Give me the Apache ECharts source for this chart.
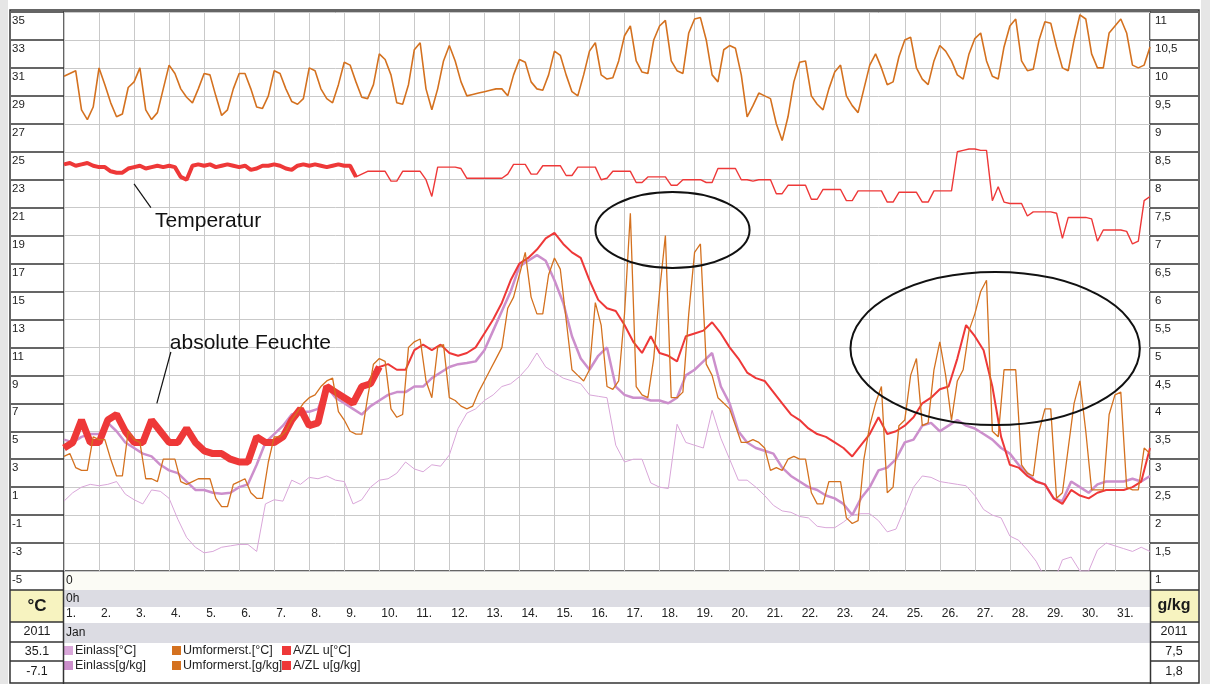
<!DOCTYPE html>
<html><head><meta charset="utf-8">
<script src="https://cdn.jsdelivr.net/npm/echarts/dist/echarts.min.js"></script>
<style>html,body{margin:0;padding:0;background:#fff}#c{width:1210px;height:684px}</style>
</head><body><div id="c"></div><script>
// ---------------- DATA (x = elapsed days since 1 Jan 0h) ----------------
const dayLabels = Array.from({length: 31}, (_, i) => (i + 1) + '.');
const NAMES = ['Einlass[°C]', 'Umformerst.[°C]', 'A/ZL u[°C]', 'Einlass[g/kg]', 'Umformerst.[g/kg]', 'A/ZL u[g/kg]'];

// Umformerst. [°C]  (every 4 h)
const orangeT = [
30.4,30.6,30.8,28.0,27.3,28.2, 31.0,29.8,28.5,27.5,27.7,29.6, 30.0,31.0,28.0,27.3,27.8,29.5,
31.2,30.6,29.5,28.9,28.5,29.5, 30.6,30.5,29.0,27.6,28.0,29.5, 30.6,30.6,29.5,28.2,28.1,29.0,
30.8,30.6,29.5,28.6,28.4,28.8, 31.0,30.8,29.5,28.8,28.5,29.8, 31.4,31.2,30.0,28.9,28.8,29.8,
32.0,31.6,30.5,28.5,28.4,29.8, 32.3,32.8,29.5,28.0,29.5,31.5, 32.6,31.5,30.0,29.0,29.1,29.2,
29.3,29.4,29.5,29.5,29.0,30.5, 31.6,31.4,30.0,29.5,29.4,30.5, 32.2,31.9,30.5,29.3,29.0,30.5,
32.2,32.8,30.5,30.2,30.3,31.5, 33.3,34.0,31.5,30.7,30.6,33.0, 34.0,34.4,31.5,30.8,30.6,33.5,
34.5,34.6,33.0,30.5,30.0,32.3, 32.6,32.4,30.5,27.5,28.3,29.2, 29.0,28.8,27.0,25.8,27.5,30.0,
31.4,31.5,29.0,28.4,28.0,29.5, 30.7,31.2,29.0,28.3,27.8,29.5, 31.2,32.0,31.0,29.8,30.0,31.8,
33.0,33.2,31.0,30.2,29.8,31.5, 32.6,32.2,31.5,30.5,30.2,32.0, 33.1,33.5,31.5,30.4,30.2,32.5,
34.0,34.5,31.5,30.8,30.9,33.0, 34.3,34.2,32.5,31.0,30.8,33.0, 34.8,34.5,32.0,31.0,31.0,33.5,
34.0,34.5,33.5,31.2,31.0,31.2, 32.5];

// A/ZL u [°C]  (every 4 h)
const redT = [
24.1,24.2,24.0,24.1,24.2,24.0, 23.9,23.9,23.6,23.5,23.5,23.8, 23.9,24.0,23.8,23.9,24.0,23.9,
24.0,23.9,23.2,23.0,24.0,24.1, 24.0,24.1,23.9,24.0,24.1,24.0, 23.9,24.0,23.7,23.8,24.0,24.0,
24.1,24.0,23.8,23.7,24.0,24.1, 24.0,24.1,24.0,23.9,24.0,24.1, 24.0,24.0,23.2,23.4,23.6,23.6,
23.6,23.6,22.9,22.9,23.6,23.6, 23.6,23.6,23.0,21.8,23.9,23.9, 23.9,23.9,23.8,23.1,23.1,23.1,
23.1,23.1,23.1,23.1,23.4,24.1, 24.1,24.1,23.4,23.4,24.0,24.0, 24.0,24.0,23.3,23.3,23.9,23.9,
23.9,23.9,23.0,23.1,23.6,23.6, 23.6,23.6,22.8,22.8,23.2,23.2, 23.2,23.2,22.6,22.6,23.0,23.0,
23.0,23.0,22.8,22.8,23.8,23.8, 23.8,23.8,23.0,23.0,22.9,23.0, 23.0,23.0,22.0,22.0,22.6,22.6,
22.6,22.6,21.6,21.6,22.3,22.3, 22.3,22.3,21.5,21.5,22.2,22.2, 22.2,22.2,22.2,21.4,21.4,22.1,
22.1,22.1,22.1,21.4,21.4,22.2, 22.2,22.2,22.2,25.0,25.1,25.2, 25.2,25.1,25.1,21.5,22.5,21.4,
21.3,21.3,21.3,20.4,20.7,20.7, 20.7,20.7,20.6,18.8,20.3,20.3, 20.3,20.3,20.2,18.6,19.4,19.4,
19.4,19.4,19.3,18.4,18.6,21.5, 21.8];

// Umformerst. [g/kg]  (every 4 h)
const orangeH = [
3.05,3.1,2.85,2.8,2.8,3.4, 3.35,3.35,3.0,2.7,2.7,3.5, 3.35,3.3,2.65,2.65,2.6,3.0,
3.0,3.0,2.6,2.55,2.6,2.65, 2.65,2.65,2.3,2.15,2.15,2.55, 2.6,2.65,2.4,2.3,2.3,2.95,
3.4,3.4,3.5,3.7,3.85,4.0, 4.1,4.15,4.3,4.4,4.45,3.85, 3.7,3.5,3.45,3.45,4.1,4.7,
4.8,4.75,3.9,3.75,3.8,5.0, 5.1,5.15,4.4,4.1,5.0,5.05, 4.1,4.05,3.95,3.9,3.95,4.2,
4.4,4.6,4.8,5.0,5.7,5.9, 6.3,6.7,5.9,5.6,5.6,6.3, 6.6,6.4,5.5,4.6,4.5,4.4,
4.6,5.8,5.4,4.3,4.25,4.4, 5.6,7.4,4.3,4.15,4.1,4.8, 6.0,7.0,4.1,4.1,4.2,5.6,
6.7,6.85,4.7,4.5,4.1,4.0, 3.9,3.6,3.3,3.3,3.35,3.3, 3.2,2.8,2.85,2.8,3.0,3.05,
3.0,3.0,2.4,2.2,2.2,2.6, 2.6,2.6,1.95,1.85,1.9,3.0, 3.6,4.0,4.3,2.4,2.5,3.6,
3.7,4.5,4.8,3.6,3.65,4.6, 5.1,4.5,3.7,4.4,4.6,5.3, 5.6,6.0,6.2,3.5,3.4,4.6,
4.6,4.6,2.9,2.75,2.7,3.5, 3.9,3.9,2.3,2.4,3.2,4.0, 4.4,3.5,2.45,2.45,2.45,3.8,
4.15,4.2,2.5,2.45,2.45,3.2, 3.1];

// A/ZL u [g/kg]  (every 6 h)
const redH = [
3.2,3.3,3.7,3.3, 3.3,3.7,3.8,3.5, 3.3,3.3,3.7,3.5, 3.3,3.3,3.55,3.3, 3.15,3.1,3.1,3.0,
2.95,2.95,3.4,3.3, 3.3,3.4,3.7,3.9, 3.6,3.65,4.3,4.2, 4.1,4.0,4.3,4.35, 4.65,4.7,4.6,4.6,
4.95,5.05,4.95,5.05, 4.9,4.85,4.9,5.0, 5.25,5.5,5.8,6.2, 6.5,6.6,6.75,6.95, 7.05,6.85,6.7,6.6,
6.2,5.85,5.7,5.65, 5.4,5.1,4.9,5.2, 4.9,4.85,4.75,5.2, 5.25,5.3,5.45,5.25, 5.0,4.8,4.55,4.45,
4.4,4.2,4.0,3.8, 3.7,3.55,3.45,3.4, 3.3,3.2,3.05,3.25, 3.45,3.75,3.45,3.5, 3.6,3.75,4.0,4.1,
4.25,4.3,4.8,5.4, 5.2,4.95,4.3,3.4, 2.9,2.85,2.7,2.6, 2.55,2.3,2.2,2.45, 2.35,2.3,2.4,2.45,
2.45,2.45,2.5,2.6, 3.2];

// Einlass [g/kg]  (every 6 h)
const pinkH = [
3.35,3.3,3.4,3.45, 3.45,3.65,3.5,3.3, 3.2,3.1,3.05,2.9, 2.8,2.75,2.6,2.45, 2.45,2.4,2.38,2.4,
2.5,2.55,2.9,3.3, 3.45,3.6,3.8,3.85, 3.85,3.9,4.3,4.1, 4.0,3.9,3.8,3.95, 4.05,4.15,4.2,4.2,
4.3,4.3,4.45,4.55, 4.65,4.7,4.72,4.75, 4.95,5.3,5.65,6.0, 6.45,6.55,6.65,6.55, 6.2,5.8,5.2,4.8,
4.6,4.85,5.0,4.3, 4.15,4.1,4.1,4.05, 4.05,4.0,4.1,4.5, 4.6,4.75,4.9,4.3, 4.0,3.5,3.3,3.2,
3.15,3.1,2.85,2.7, 2.6,2.5,2.45,2.35, 2.3,2.2,2.0,2.3, 2.5,2.8,2.85,3.0, 3.3,3.35,3.6,3.65,
3.5,3.6,3.7,3.6, 3.55,3.45,3.35,3.2, 3.1,2.9,2.75,2.6, 2.55,2.3,2.25,2.6, 2.5,2.4,2.55,2.6,
2.6,2.6,2.65,2.6, 2.7];

// Einlass [°C]  (every 6 h)
const pinkT = [
0.0,0.6,1.0,1.2, 1.1,1.2,1.4,0.5, 0.1,-0.2,0.8,0.7, 0.2,-1.3,-2.6,-3.3, -3.7,-3.6,-3.3,-3.2,
-3.1,-3.1,-3.6,-0.2, 0.1,0.0,1.5,1.2, 1.7,1.6,1.8,1.5, 1.4,-0.2,0.1,1.0, 1.5,1.6,2.0,2.8,
2.3,2.1,2.6,2.5, 3.3,5.2,6.3,6.6, 7.2,7.6,8.2,8.4, 8.9,9.6,10.6,9.6, 9.2,8.8,8.6,8.4,
7.6,7.5,7.4,4.0, 2.8,3.0,3.0,1.3, 1.0,0.9,5.5,4.2, 4.0,3.8,6.5,4.5, 3.0,1.5,1.5,1.0,
0.4,-0.3,-0.7,-0.8, -1.1,-1.2,-1.8,-1.9, -1.9,-1.5,-1.0,-0.9, -0.9,-1.4,-2.2,-2.0, -0.5,1.0,1.8,1.7,
1.4,1.3,1.2,1.1, 0.4,-0.6,-1.0,-1.2, -2.5,-2.8,-3.5,-4.3, -5.5,-5.8,-4.2,-4.0, -5.0,-5.0,-3.5,-3.0,
-3.2,-3.4,-3.6,-3.3, -3.6];

// Statistics shown in the side columns
const leftInfo = {unit: '°C', year: '2011', max: '35.1', min: '-7.1'};
const rightInfo = {unit: 'g/kg', year: '2011', max: '7,5', min: '1,8'};
const bandTexts = {zero: '0', hour: '0h', month: 'Jan'};

// ---------------- CHART ----------------
const FONT = '"Liberation Sans", Arial, sans-serif';
const COL = {einT: '#d9a6d9', einH: '#cc8fcc', um: '#d4711f', az: '#ee3838'};
const G_LEFT = 64, G_RIGHT = 1150, G_TOP = 12, G_BOTTOM = 571;

function pairs(arr, perDay) { return arr.map((v, i) => [i / perDay, v]); }
function lineS(name, data, yIdx, color, width, z) {
  return {name, type: 'line', data, yAxisIndex: yIdx, showSymbol: false, symbol: 'none',
    lineStyle: {color, width}, itemStyle: {color}, z, animation: false, silent: true, clip: true};
}

const chart = echarts.init(document.getElementById('c'), null, {renderer: 'canvas'});

const G = [];
const line = (x1, y1, x2, y2, w, c) => G.push({type: 'line', shape: {x1, y1, x2, y2}, style: {stroke: c || '#333', lineWidth: w || 1.5}, silent: true, z: 10});
const rect = (x, y, w, h, fill, z) => G.push({type: 'rect', shape: {x, y, width: w, height: h}, style: {fill}, silent: true, z: z || 0});
const text = (x, y, t, size, opts) => G.push(Object.assign({type: 'text', x, y, style: Object.assign({text: t, fontFamily: FONT, fontSize: size, fill: '#1a1a1a', align: 'left', verticalAlign: 'middle'}, opts || {})}, {silent: true, z: 11}));

// side strips
rect(0, 0, 8, 684, '#e6e6e6');
rect(1201, 0, 9, 684, '#e6e6e6');
// bottom bands
rect(G_LEFT, 571, G_RIGHT - G_LEFT, 19, '#fbfbf5');
rect(G_LEFT, 590, G_RIGHT - G_LEFT, 17, '#dcdce3');
rect(G_LEFT, 623, G_RIGHT - G_LEFT, 20, '#dcdce3');
text(66, 581, bandTexts.zero, 12);
text(66, 599, bandTexts.hour, 12);
text(66, 633, bandTexts.month, 12);
// unit boxes
rect(11, 590, 52, 32, '#f7f3c0', 1);
rect(1151, 590, 47, 32, '#f7f3c0', 1);
[590, 622, 642, 661].forEach(y => { line(10, y, G_LEFT, y); line(G_RIGHT, y, 1199, y); });
line(G_LEFT - 0.5, 571, G_LEFT - 0.5, 684);
line(G_RIGHT + 0.5, 571, G_RIGHT + 0.5, 684);
G.push({type: 'rect', shape: {x: 10, y: 10, width: 1189, height: 673}, style: {fill: 'none', stroke: '#333', lineWidth: 1.5}, silent: true, z: 10});
text(37, 606, leftInfo.unit, 17, {fontWeight: 'bold', align: 'center'});
text(37, 632, leftInfo.year, 12.5, {align: 'center'});
text(37, 652, leftInfo.max, 12.5, {align: 'center'});
text(37, 672, leftInfo.min, 12.5, {align: 'center'});
text(1174, 606, rightInfo.unit, 16, {fontWeight: 'bold', align: 'center'});
text(1174, 632, rightInfo.year, 12.5, {align: 'center'});
text(1174, 652, rightInfo.max, 12.5, {align: 'center'});
text(1174, 672, rightInfo.min, 12.5, {align: 'center'});

// legend: three columns of two entries (°C row on top, g/kg row below)
const legendBase = {top: 644, orient: 'vertical', itemWidth: 9, itemHeight: 9, itemGap: 2, icon: 'rect',
  padding: 0, selectedMode: false,
  textStyle: {fontFamily: FONT, fontSize: 12.5, color: '#222', padding: [0, 0, 0, -3]}};
const legendCols = [[NAMES[0], NAMES[3]], [NAMES[1], NAMES[4]], [NAMES[2], NAMES[5]]];
const legendLeft = [64, 172, 282];

const option = {
  backgroundColor: '#fff',
  animation: false,
  textStyle: {fontFamily: FONT},
  grid: {left: G_LEFT, right: 1210 - G_RIGHT, top: G_TOP, bottom: 684 - G_BOTTOM, containLabel: false,
    outerBoundsMode: 'none', show: true, borderColor: '#333', borderWidth: 1.5, backgroundColor: 'transparent'},
  legend: legendCols.map((d, i) => Object.assign({}, legendBase, {left: legendLeft[i], data: d, z: 5 + i})),
  xAxis: {
    type: 'value', min: 0, max: 31, interval: 1,
    axisLine: {show: false}, axisTick: {show: false},
    splitLine: {show: true, lineStyle: {color: '#c9c9c9', width: 1}},
    axisLabel: {formatter: v => dayLabels[v] || '', margin: 37, align: 'left', padding: [0, 0, 0, 2],
      fontSize: 12, color: '#222', showMaxLabel: false, fontFamily: FONT}
  },
  yAxis: [
    {type: 'value', min: -5, max: 35, interval: 2, position: 'left',
      axisLine: {show: false},
      axisTick: {show: true, length: 53, lineStyle: {color: '#333', width: 1.5}},
      splitLine: {show: true, lineStyle: {color: '#c9c9c9', width: 1}},
      axisLabel: {align: 'left', margin: 52, verticalAlign: 'top', padding: [3, 0, 0, 0], fontSize: 11.5, color: '#222', fontFamily: FONT}},
    {type: 'value', min: 1, max: 11, interval: 0.5, position: 'right',
      axisLine: {show: false},
      axisTick: {show: true, length: 48, lineStyle: {color: '#333', width: 1.5}},
      splitLine: {show: false},
      axisLabel: {align: 'left', margin: 5, verticalAlign: 'top', padding: [3, 0, 0, 0], fontSize: 11.5, color: '#222', fontFamily: FONT,
        formatter: v => String(v).replace('.', ',')}}
  ],
  graphic: G,
  series: [
    lineS(NAMES[0], pairs(pinkT, 4), 0, COL.einT, 1, 2),
    lineS(NAMES[3], pairs(pinkH, 4), 1, COL.einH, 2.5, 3),
    lineS(NAMES[5], pairs(redH, 4), 1, COL.az, 2, 4),
    lineS('A/ZL u[g/kg] (Band)', pairs(redH, 4).filter(p => p[0] <= 9), 1, COL.az, 7, 4),
    lineS(NAMES[4], pairs(orangeH, 6), 1, COL.um, 1.3, 5),
    lineS(NAMES[1], pairs(orangeT, 6), 0, COL.um, 1.6, 5),
    lineS(NAMES[2], pairs(redT, 6), 0, COL.az, 1.4, 5),
    lineS('A/ZL u[°C] (Band)', pairs(redT, 6).filter(p => p[0] <= 8.34), 0, COL.az, 4, 5)
  ]
};
chart.setOption(option);

// ---------------- ANNOTATIONS (anchored in data coordinates) ----------------
const ANN = {
  ellipses: [[17.37, 19.4, 2.2, 2.72], [26.58, 10.92, 4.13, 5.47]],
  labels: [
    {text: 'Temperatur', at: [2.6, 20.0], from: [2.0, 22.7], to: [2.48, 21.0]},
    {text: 'absolute Feuchte', at: [3.02, 11.3], from: [3.05, 10.67], to: [2.65, 7.0]}
  ]
};
const px = p => chart.convertToPixel({xAxisIndex: 0, yAxisIndex: 0}, p);
const A = [];
ANN.ellipses.forEach(e => {
  const c = px([e[0], e[1]]), d = px([e[0] + e[2], e[1] + e[3]]);
  A.push({type: 'ellipse', shape: {cx: c[0], cy: c[1], rx: d[0] - c[0], ry: c[1] - d[1]},
    style: {fill: 'none', stroke: '#111', lineWidth: 2}, silent: true, z: 100});
});
ANN.labels.forEach(l => {
  const a = px(l.at), f = px(l.from), t = px(l.to);
  A.push({type: 'line', shape: {x1: f[0], y1: f[1], x2: t[0], y2: t[1]}, style: {stroke: '#111', lineWidth: 1.2}, silent: true, z: 100});
  A.push({type: 'text', x: a[0], y: a[1], style: {text: l.text, fontFamily: FONT, fontSize: 21, fill: '#111', align: 'left', verticalAlign: 'middle'}, silent: true, z: 100});
});
chart.setOption({graphic: G.concat(A)});
</script></body></html>
